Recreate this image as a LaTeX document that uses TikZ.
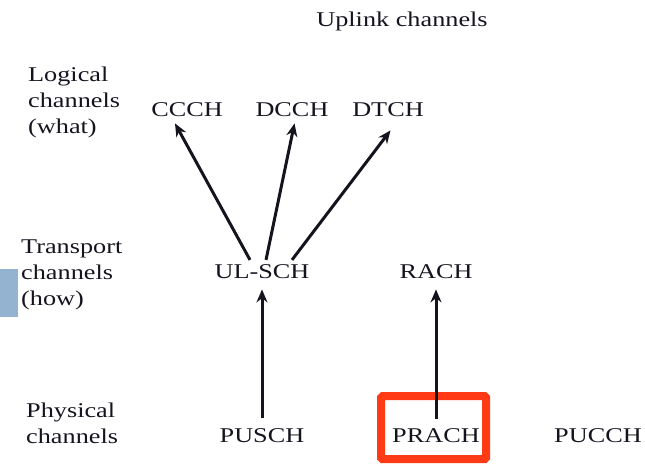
\documentclass[tikz,border=0pt]{standalone}
\usepackage{fontspec}
\setmainfont[FakeStretch=1.25]{Liberation Serif}
\usetikzlibrary{arrows.meta,calc}
\definecolor{boxred}{RGB}{255,58,20}
\definecolor{tabblue}{RGB}{147,179,208}
\definecolor{inkc}{RGB}{20,20,30}
\begin{document}
\begin{tikzpicture}[x=1pt,y=-1pt,
  every node/.style={font=\fontsize{21}{26}\selectfont, inner sep=0pt, text=inkc},
  lbl/.style={anchor=base},
  side/.style={anchor=base west, align=left},
  arr/.style={draw=inkc, line width=3pt, -{Stealth[length=13pt,width=11pt]}},
  hibox/.style={draw=boxred, line width=8pt, rounded corners=1.5pt}]
\path[use as bounding box] (0,0) rectangle (645,468);
\fill[tabblue] (0,269) rectangle (18,317);
\node[lbl] (title) at (402,27) {Uplink channels};
\node[side] (logical) at (28,134) {Logical\\channels\\(what)};
\node[side] (transport) at (21,305) {Transport\\channels\\(how)};
\node[side] (physical) at (26,443) {Physical\\channels};
\node[lbl] (ccch) at (187,117) {CCCH};
\node[lbl] (dcch) at (292,117) {DCCH};
\node[lbl] (dtch) at (388,117) {DTCH};
\node[lbl] (ulsch) at (262,278) {UL-SCH};
\node[lbl] (rach) at (436,278) {RACH};
\node[lbl] (pusch) at (262,442) {PUSCH};
\node[lbl] (prach) at (436,442) {PRACH};
\node[lbl] (pucch) at (598,442) {PUCCH};
\draw[hibox] ($(prach.center)+(-55,-39)$) rectangle ($(prach.center)+(50,24)$);
\draw[arr] ($(ulsch.north)+(-12,-4)$) -- ($(ccch.south)+(-12,6)$);
\draw[arr] ($(ulsch.north)+(4,-4)$) -- ($(dcch.south)+(2.5,6)$);
\draw[arr] ($(ulsch.north)+(30,-4)$) -- ($(dtch.south)+(2.5,13)$);
\draw[arr] ($(pusch.north)+(0,-10)$) -- ($(ulsch.south)+(0,11)$);
\draw[arr] ($(prach.north)+(0,-9)$) -- ($(rach.south)+(0,11)$);
\end{tikzpicture}
\end{document}
